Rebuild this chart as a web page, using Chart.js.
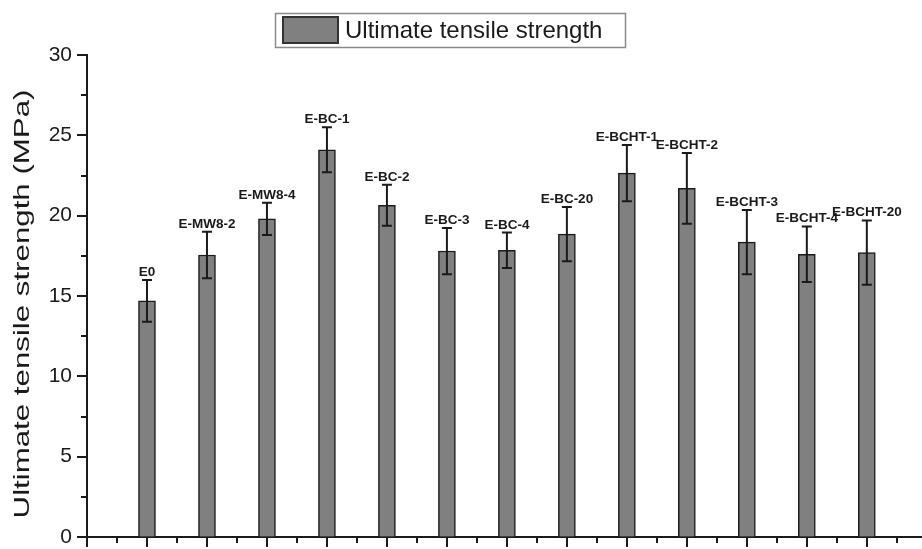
<!DOCTYPE html>
<html>
<head>
<meta charset="utf-8">
<title>Ultimate tensile strength</title>
<script src="https://cdn.jsdelivr.net/npm/chart.js@4.4.1/dist/chart.umd.min.js"></script>
<style>
  html, body { margin: 0; padding: 0; background: #fff; }
  #wrap { width: 922px; height: 549px; }
</style>
</head>
<body>
<div id="wrap"><canvas id="chart" width="922" height="549"></canvas></div>
<script>
// ===== Data =====
const categories = ['E0', 'E-MW8-2', 'E-MW8-4', 'E-BC-1', 'E-BC-2', 'E-BC-3', 'E-BC-4',
    'E-BC-20', 'E-BCHT-1', 'E-BCHT-2', 'E-BCHT-3', 'E-BCHT-4', 'E-BCHT-20'];
const strength = [14.7, 17.55, 19.8, 24.1, 20.65, 17.8, 17.85, 18.85, 22.65, 21.7, 18.35, 17.6, 17.7];
const strengthErr = [1.3, 1.45, 1.0, 1.4, 1.27, 1.44, 1.1, 1.69, 1.75, 2.2, 2.0, 1.73, 2.0];
const yMajorTicks = [0, 5, 10, 15, 20, 25, 30];
const seriesName = 'Ultimate tensile strength';
const yTitle = 'Ultimate tensile strength (MPa)';

const barGray = '#808080';
const ink = '#1a1a1a';
const fontFamily = '"Liberation Sans", Arial, sans-serif';

// ===== Error bars + labels above them =====
const errorBarPlugin = {
    id: 'errorBars',
    afterDatasetsDraw(chart) {
        const ctx = chart.ctx;
        const x = chart.scales.x, y = chart.scales.y;
        ctx.save();
        ctx.strokeStyle = ink;
        ctx.lineWidth = 2;
        ctx.fillStyle = ink;
        ctx.font = 'bold 13.5px ' + fontFamily;
        ctx.textAlign = 'center';
        ctx.textBaseline = 'alphabetic';
        strength.forEach((v, i) => {
            const px = x.getPixelForValue(i + 1);
            const top = y.getPixelForValue(v + strengthErr[i]);
            const bot = y.getPixelForValue(v - strengthErr[i]);
            ctx.beginPath();
            ctx.moveTo(px, top); ctx.lineTo(px, bot);
            ctx.moveTo(px - 5, top); ctx.lineTo(px + 5, top);
            ctx.moveTo(px - 5, bot); ctx.lineTo(px + 5, bot);
            ctx.stroke();
            ctx.fillText(categories[i], px, top - 4);
        });
        ctx.restore();
    }
};

// ===== Major / minor tick marks (outward) =====
const tickMarkPlugin = {
    id: 'tickMarks',
    afterDraw(chart) {
        const ctx = chart.ctx;
        const x = chart.scales.x, y = chart.scales.y;
        const area = chart.chartArea;
        ctx.save();
        ctx.strokeStyle = ink;
        ctx.lineWidth = 2;
        ctx.beginPath();
        for (let v = 0; v <= y.max + 0.01; v += 2.5) {
            const py = Math.round(y.getPixelForValue(v));
            const len = (v % 5 === 0) ? 10 : 6;
            ctx.moveTo(area.left, py); ctx.lineTo(area.left - len, py);
        }
        for (let v = 0; v <= x.max; v += 0.5) {
            const px = Math.round(x.getPixelForValue(v));
            const len = (v % 1 === 0) ? 10 : 6;
            ctx.moveTo(px, area.bottom); ctx.lineTo(px, area.bottom + len);
        }
        ctx.stroke();
        ctx.restore();
    }
};

// ===== Y axis title (the original is stretched along the text) =====
const yTitlePlugin = {
    id: 'yTitle',
    afterDraw(chart) {
        const ctx = chart.ctx;
        const area = chart.chartArea;
        ctx.save();
        ctx.translate(23, (area.top + area.bottom) / 2 + 8);
        ctx.rotate(-Math.PI / 2);
        ctx.scale(1.42, 1);
        ctx.fillStyle = ink;
        ctx.font = '22px ' + fontFamily;
        ctx.textAlign = 'center';
        ctx.textBaseline = 'middle';
        ctx.fillText(yTitle, 0, 0);
        ctx.restore();
    }
};

// ===== Boxed legend at the top =====
const boxedLegendPlugin = {
    id: 'boxedLegend',
    afterDraw(chart) {
        const ctx = chart.ctx;
        ctx.save();
        ctx.fillStyle = '#fff';
        ctx.fillRect(275, 13, 350, 34);
        ctx.strokeStyle = '#8a8a8a';
        ctx.lineWidth = 1.5;
        ctx.strokeRect(275.5, 13.5, 350, 34);
        ctx.fillStyle = barGray;
        ctx.fillRect(283, 17, 55, 26);
        ctx.strokeStyle = '#333';
        ctx.lineWidth = 2;
        ctx.strokeRect(283, 17, 55, 26);
        ctx.fillStyle = ink;
        ctx.font = '24px ' + fontFamily;
        ctx.textAlign = 'left';
        ctx.textBaseline = 'middle';
        ctx.fillText(seriesName, 345, 31);
        ctx.restore();
    }
};

const ctx = document.getElementById('chart').getContext('2d');
new Chart(ctx, {
    type: 'bar',
    data: {
        datasets: [{
            label: seriesName,
            data: strength.map((v, i) => ({ x: i + 1, y: v })),
            backgroundColor: barGray,
            borderColor: ink,
            borderWidth: 1.5,
            barThickness: 17
        }]
    },
    options: {
        responsive: false,
        animation: false,
        devicePixelRatio: 1,
        layout: { padding: { top: 55, right: 0, bottom: 0, left: 0 } },
        plugins: {
            legend: { display: false },
            tooltip: { enabled: false }
        },
        scales: {
            x: {
                type: 'linear',
                offset: false,
                min: 0,
                max: 13.92,
                grid: { display: false, drawTicks: false },
                border: { display: true, color: ink, width: 2 },
                ticks: { display: false },
                afterFit(scale) { scale.height = 12; }
            },
            y: {
                min: 0,
                max: 30,
                afterBuildTicks(scale) { scale.ticks = yMajorTicks.map(v => ({ value: v })); },
                grid: { drawOnChartArea: false, drawTicks: false },
                border: { display: true, color: ink, width: 2 },
                ticks: {
                    padding: 15,
                    color: ink,
                    font: { family: fontFamily, size: 21 }
                },
                title: { display: false },
                afterFit(scale) {
                    scale.width = 87;
                    scale.paddingTop = 0;
                    scale.paddingBottom = 0;
                }
            }
        }
    },
    plugins: [errorBarPlugin, tickMarkPlugin, yTitlePlugin, boxedLegendPlugin]
});
</script>
</body>
</html>
